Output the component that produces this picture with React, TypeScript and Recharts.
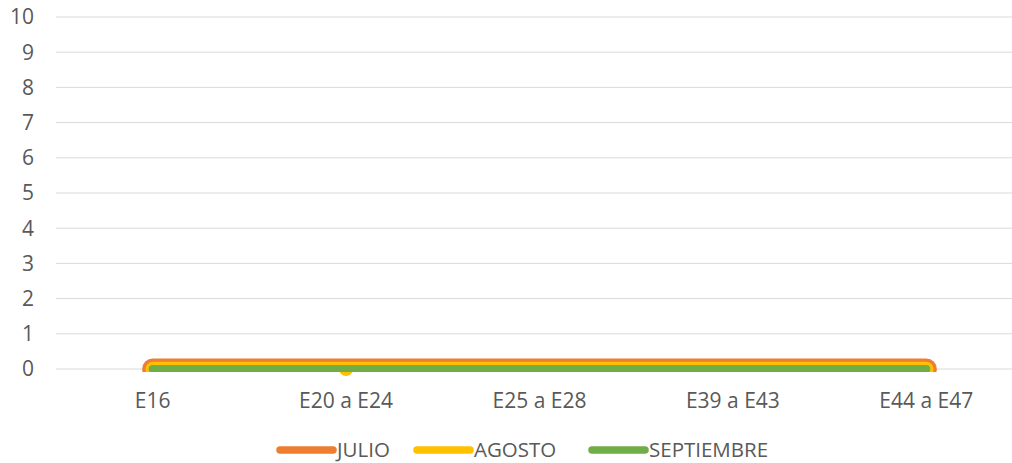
import React from 'react';
import { LineChart, Line, XAxis, YAxis, CartesianGrid } from 'recharts';

const categories = ['E16', 'E20 a E24', 'E25 a E28', 'E39 a E43', 'E44 a E47'];
const julio = [0, 0, 0, 0, 0];
const agosto = [0, 0, 0, 0, 0];
const septiembre = [0, 0, 0, 0, 0];
const agostoMarker = [null, 0, null, null, null];
const yTicks = [0, 1, 2, 3, 4, 5, 6, 7, 8, 9, 10];

const seriesNames = ['JULIO', 'AGOSTO', 'SEPTIEMBRE'];
const seriesColors = ['#ED7D31', '#FFC000', '#70AD47'];
const seriesWidths = [21, 14.5, 8];
const legendLeft = [276, 413, 588];

const data = categories.map((c, i) => ({
  name: c,
  JULIO: julio[i],
  AGOSTO: agosto[i],
  SEPTIEMBRE: septiembre[i],
  AGOSTO_MARKER: agostoMarker[i],
}));

const FONT = '"Open Sans", sans-serif';
const TEXT = '#595959';

const gridGen = (props: any) => {
  const scale = props?.yAxis?.scale;
  if (typeof scale === 'function') return yTicks.map((t) => scale(t));
  if (scale && typeof scale.map === 'function') return yTicks.map((t) => scale.map(t));
  return [];
};

export default function App() {
  const topLineProps: any = { zIndex: 2000 };
  return (
    <div style={{ position: 'fixed', left: 0, top: 0, width: 1012, height: 463, overflow: 'hidden', background: '#fff' }}>
      <LineChart width={1030} height={463} data={data} margin={{ top: 17, right: 7, bottom: 0, left: 0 }}>
        <CartesianGrid vertical={false} stroke="#d9d9d9" strokeWidth={1} horizontalCoordinatesGenerator={gridGen} />
        <XAxis
          dataKey="name"
          axisLine={false}
          tickLine={false}
          height={91}
          tickMargin={15}
          padding={{ left: 96.7, right: 96.7 }}
          tick={{ fill: TEXT, fontSize: 21, fontFamily: FONT }}
          interval={0}
        />
        <YAxis
          type="number"
          domain={[-0.085, 10]}
          ticks={yTicks}
          allowDataOverflow
          axisLine={false}
          tickLine={false}
          width={56}
          tickMargin={16}
          tick={{ fill: TEXT, fontSize: 21, fontFamily: FONT }}
        />
        <Line dataKey="JULIO" stroke={seriesColors[0]} strokeWidth={seriesWidths[0]} strokeLinecap="round" strokeLinejoin="round" dot={false} activeDot={false} isAnimationActive={false} />
        <Line dataKey="AGOSTO" stroke={seriesColors[1]} strokeWidth={seriesWidths[1]} strokeLinecap="round" strokeLinejoin="round" dot={false} activeDot={false} isAnimationActive={false} />
        <Line dataKey="AGOSTO_MARKER" stroke="none" legendType="none" dot={{ r: 7, fill: seriesColors[1], stroke: 'none', strokeWidth: 0, clipDot: false }} activeDot={false} isAnimationActive={false} />
        <Line dataKey="SEPTIEMBRE" {...topLineProps} stroke={seriesColors[2]} strokeWidth={seriesWidths[2]} strokeLinecap="round" strokeLinejoin="round" dot={false} activeDot={false} isAnimationActive={false} />
      </LineChart>
      {seriesNames.map((n, i) => (
        <div key={n} style={{ position: 'absolute', left: legendLeft[i], top: 435, height: 28, display: 'flex', alignItems: 'center', fontFamily: FONT, fontSize: 20.5, color: TEXT }}>
          <svg width={61} height={10} style={{ display: 'block', marginTop: 2 }}>
            <line x1={4} y1={5} x2={57} y2={5} stroke={seriesColors[i]} strokeWidth={7.5} strokeLinecap="round" />
          </svg>
          <span style={{ lineHeight: '28px', whiteSpace: 'nowrap' }}>{n}</span>
        </div>
      ))}
    </div>
  );
}
